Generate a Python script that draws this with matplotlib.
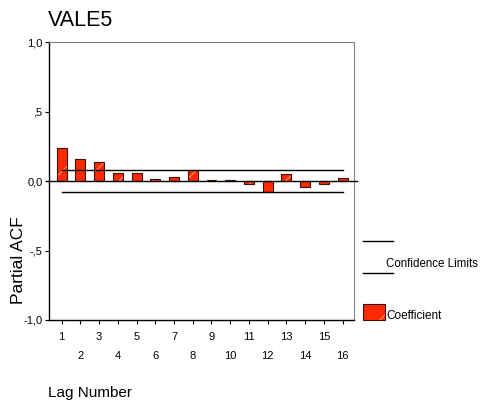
import matplotlib.pyplot as plt
from matplotlib.lines import Line2D
from matplotlib.patches import Rectangle

plt.rcParams['font.family'] = ['Liberation Sans', 'DejaVu Sans']
plt.rcParams['hatch.linewidth'] = 0.6

# partial autocorrelations
lags = list(range(1, 17))
pacf = [0.240, 0.156, 0.134, 0.058, 0.058, 0.017, 0.031, 0.079,
        0.007, 0.007, -0.024, -0.079, 0.048, -0.041, -0.024, 0.024]
conf_upper = 0.078
conf_lower = -0.078
ytick_vals = [-1.0, -0.5, 0.0, 0.5, 1.0]
ytick_labels = ['-1,0', '-,5', '0,0', ',5', '1,0']

bar_color = '#ff2a00'

fig = plt.figure(figsize=(4.8, 4.01), dpi=100)
ax = fig.add_axes([0.103, 0.202, 0.635, 0.693])

# fill with light hatch, then dark outline on top
ax.bar(lags, pacf, width=0.53, color=bar_color, edgecolor='#ffb0a0',
       hatch='/', linewidth=0, zorder=2)
ax.bar(lags, pacf, width=0.53, fill=False, edgecolor='#3a1208',
       linewidth=0.8, zorder=3)

ax.plot([lags[0], lags[-1]], [conf_upper, conf_upper], color='black', lw=1, zorder=4)
ax.plot([lags[0], lags[-1]], [conf_lower, conf_lower], color='black', lw=1, zorder=4)
ax.axhline(0, xmin=-0.012, xmax=1.01, color='black', lw=1, clip_on=False, zorder=4)

ax.set_xlim(0.35, 16.62)
ax.set_ylim(-1, 1)

ax.set_yticks(ytick_vals)
ax.set_yticklabels(ytick_labels)
ax.set_xticks(lags[0::2])
ax.set_xticklabels([str(v) for v in lags[0::2]])
ax.set_xticks(lags[1::2], minor=True)
ax.set_xticklabels([str(v) for v in lags[1::2]], minor=True)
ax.tick_params(axis='x', which='both', direction='out', length=3, width=0.8,
               labelsize=8)
ax.tick_params(axis='x', which='major', pad=5.5)
ax.tick_params(axis='x', which='minor', pad=19.5)
ax.tick_params(axis='y', direction='out', length=3, width=0.8, labelsize=8, pad=2)

for side in ['top', 'right']:
    ax.spines[side].set_color('#808080')
for side in ['left', 'bottom']:
    ax.spines[side].set_color('black')
    ax.spines[side].set_linewidth(1.0)

fig.text(0.100, 0.95, 'VALE5', fontsize=15.5, va='center', ha='left')
fig.text(0.039, 0.351, 'Partial ACF', fontsize=12.5, rotation=90, va='center', ha='center')
fig.text(0.100, 0.037, 'Lag Number', fontsize=11, va='top', ha='left')

# legend, laid out by hand like the original
fig.add_artist(Line2D([0.756, 0.819], [0.399, 0.399], color='black', lw=1))
fig.add_artist(Line2D([0.756, 0.819], [0.319, 0.319], color='black', lw=1))
fig.text(0.805, 0.341, 'Confidence Limits', fontsize=8.3, va='center', ha='left')
fig.add_artist(Rectangle((0.756, 0.203), 0.046, 0.040, facecolor=bar_color,
                         edgecolor='#ffb0a0', hatch='/', linewidth=0))
fig.add_artist(Rectangle((0.756, 0.203), 0.046, 0.040, fill=False,
                         edgecolor='#3a1208', linewidth=0.8))
fig.text(0.805, 0.211, 'Coefficient', fontsize=8.5, va='center', ha='left')

fig.savefig('out.png', dpi=100)
